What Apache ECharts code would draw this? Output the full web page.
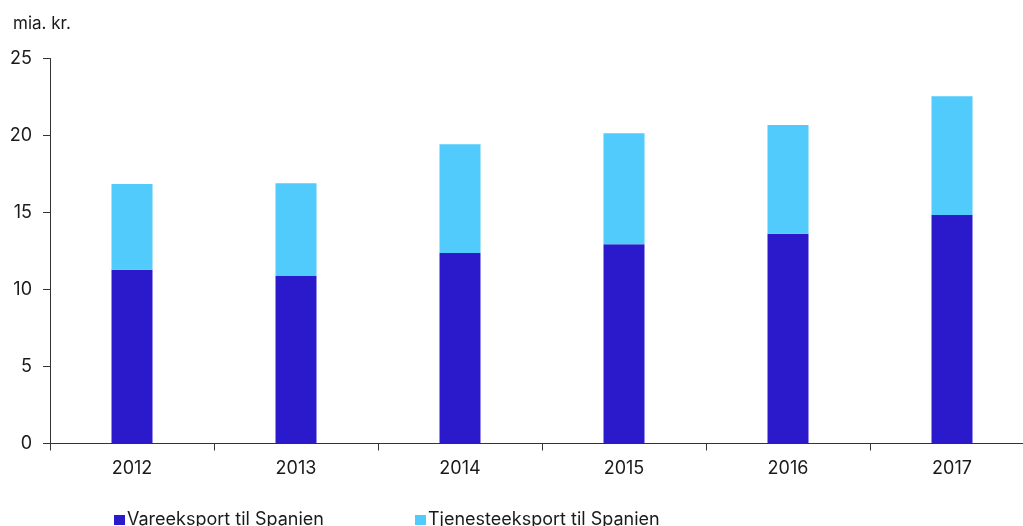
<!DOCTYPE html>
<html>
<head>
<meta charset="utf-8">
<script src="https://cdn.jsdelivr.net/npm/echarts@6/dist/echarts.min.js"></script>
<style>
html,body{margin:0;padding:0;background:#fff;overflow:hidden;}
#c{width:1034px;height:526px;}
</style>
</head>
<body>
<div id="c"></div>
<script>
const categories = ['2012','2013','2014','2015','2016','2017'];
const vareeksport = [11.29, 10.88, 12.37, 12.94, 13.62, 14.84];
const tjenesteeksport = [5.56, 6.02, 7.06, 7.20, 7.06, 7.71];
const seriesNames = ['Vareeksport til Spanien', 'Tjenesteeksport til Spanien'];
const yTicks = { min: 0, max: 25, interval: 5 };
const unitLabel = 'mia. kr.';

const font = 'Inter, Liberation Sans, Arial, sans-serif';
const chart = echarts.init(document.getElementById('c'), null, {renderer:'canvas'});
chart.setOption({
  animation: false,
  backgroundColor: '#ffffff',
  textStyle: { fontFamily: font },
  title: {
    text: unitLabel, left: 8, top: 10,
    textStyle: { fontSize: 17, fontWeight: 'normal', color: '#1a1a1a', fontFamily: font }
  },
  legend: [
    {
      data: [seriesNames[0]], left: 109, top: 506,
      itemWidth: 11, itemHeight: 10, icon: 'rect', itemGap: 4,
      textStyle: { fontSize: 18, color: '#1a1a1a', fontFamily: font, padding: [0,0,0,-3] }
    },
    {
      data: [seriesNames[1]], left: 410, top: 506,
      itemWidth: 11, itemHeight: 10, icon: 'rect',
      textStyle: { fontSize: 18, color: '#1a1a1a', fontFamily: font, padding: [0,0,0,-3] }
    }
  ],
  grid: { left: 50, top: 58.5, right: 0, height: 385, containLabel: false },
  xAxis: {
    type: 'category', data: categories,
    axisLine: { lineStyle: { color: '#333', width: 1 } },
    axisTick: { show: true, length: 7, lineStyle: { color: '#333' }, alignWithLabel: false },
    axisLabel: { fontSize: 18, color: '#1a1a1a', margin: 16, fontFamily: font },
    splitLine: { show: false }
  },
  yAxis: {
    type: 'value', min: yTicks.min, max: yTicks.max, interval: yTicks.interval,
    axisLine: { show: true, lineStyle: { color: '#333', width: 1 } },
    axisTick: { show: true, length: 7, lineStyle: { color: '#333' } },
    axisLabel: { fontSize: 18, color: '#1a1a1a', margin: 18, fontFamily: font },
    splitLine: { show: false }
  },
  series: [
    {
      name: seriesNames[0], type: 'bar', stack: 'total', data: vareeksport,
      barWidth: 41, itemStyle: { color: '#2B1ACC' }
    },
    {
      name: seriesNames[1], type: 'bar', stack: 'total', data: tjenesteeksport,
      barWidth: 41, itemStyle: { color: '#51CAFC' }
    }
  ]
});
</script>
</body>
</html>
